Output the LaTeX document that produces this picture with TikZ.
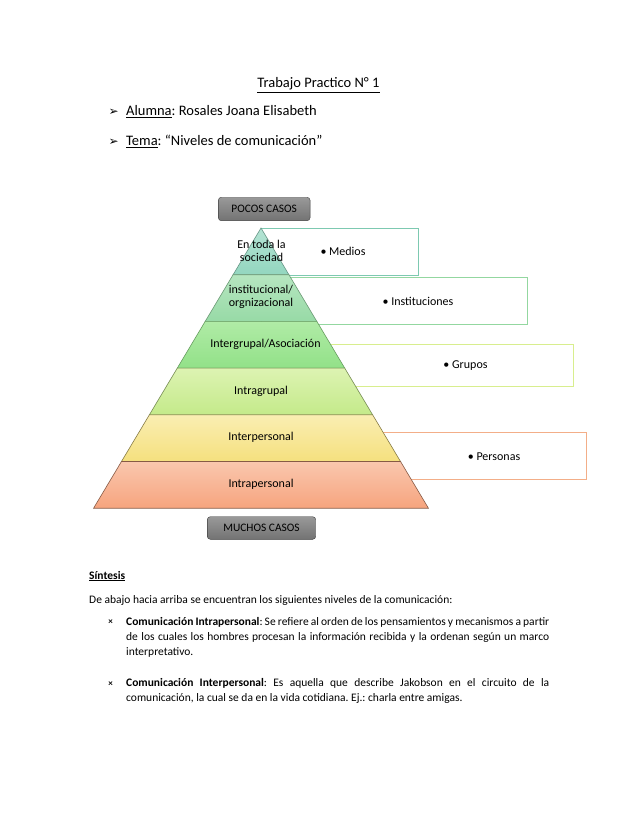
\documentclass[tikz,border=0pt]{standalone}
\usepackage{fontspec}
\setmainfont{Carlito}
\newfontfamily\dingfont{DejaVu Sans}
\usetikzlibrary{positioning}
\frenchspacing

\definecolor{capa1a}{HTML}{B4E4D4}\definecolor{capa1b}{HTML}{93D6BF}\definecolor{borde1}{HTML}{7DC9B1}
\definecolor{capa2a}{HTML}{B6E6C0}\definecolor{capa2b}{HTML}{97DAA6}\definecolor{borde2}{HTML}{93D7A0}
\definecolor{capa3a}{HTML}{B0EBA6}\definecolor{capa3b}{HTML}{92E188}\definecolor{borde3}{HTML}{D8EE8E}
\definecolor{capa4a}{HTML}{DDF3B2}\definecolor{capa4b}{HTML}{C4EA8A}
\definecolor{capa5a}{HTML}{FAEEB2}\definecolor{capa5b}{HTML}{F5E07E}\definecolor{borde4}{HTML}{F3AE88}
\definecolor{capa6a}{HTML}{FAC7AE}\definecolor{capa6b}{HTML}{F6A47E}

\tikzset{
  texto/.style={font=\fontsize{11.5}{15}\selectfont, inner sep=0pt, anchor=base west},
  cabecera/.style={texto, font=\fontsize{14.5}{17}\selectfont},
  parrafo/.style={texto, text width=423pt, align=justify},
  nivel/.style={font=\fontsize{12}{13}\selectfont, inner sep=0pt, align=center},
  lista/.style={line width=0.8pt},
  casos/.style={draw=black!75, rounded corners=3pt, top color=black!40, bottom color=black!55,
    font=\fontsize{11.4}{13}\selectfont, inner sep=0pt},
}

\begin{document}
\begin{tikzpicture}[x=1pt,y=-1pt]
\useasboundingbox[fill=white] (0,0) rectangle (638,826);

% encabezado
\node[cabecera, anchor=base] (titulo) at (318.5,88) {\underline{Trabajo Practico N° 1}};
\node[cabecera] (alumna) at (126,115.5) {\underline{Alumna}: Rosales Joana Elisabeth};
\node[cabecera] (tema) at (126,146) {\underline{Tema}: “Niveles de comunicación”};
\node[texto, anchor=base east, font=\dingfont\fontsize{12}{12}\selectfont] (flecha1) at ([xshift=-7pt]alumna.base west) {➢};
\node[texto, anchor=base east, font=\dingfont\fontsize{12}{12}\selectfont] (flecha2) at ([xshift=-7pt]tema.base west) {➢};

% cajas de la lista
\draw[lista, borde1] (261,228) rectangle (418,275);
\draw[lista, borde2] (261,277.3) rectangle (527.7,324.3);
\draw[lista, borde3] (261,344.3) rectangle (573.3,386.7);
\draw[lista, borde4] (261,432.3) rectangle (586.7,479);

% piramide
\foreach \i/\ca/\cb/\cl in {0/capa1a/capa1b/capa1b!70!black, 1/capa2a/capa2b/capa2b!70!black,
  2/capa3a/capa3b/capa3b!70!black, 3/capa4a/capa4b/capa4b!60!black,
  4/capa5a/capa5b/capa5b!55!black, 5/capa6a/capa6b/capa6b!55!black}{
  \pgfmathsetmacro{\ya}{228+46.7*\i}
  \pgfmathsetmacro{\yb}{\ya+46.7}
  \pgfmathsetmacro{\wa}{(\ya-228)*0.5975}
  \pgfmathsetmacro{\wb}{(\yb-228)*0.5975}
  \shadedraw[top color=\ca, bottom color=\cb, draw=\cl, line width=0.6pt]
    (261-\wa,\ya) -- (261+\wa,\ya) -- (261+\wb,\yb) -- (261-\wb,\yb) -- cycle;
}
\node[nivel] (sociedad) at (261.5,250.5) {En toda la\\sociedad};
\node[nivel] (institucional) at (261,297) {institucional/\\orgnizacional};
\node[nivel] (intergrupal) at (265.5,344.3) {Intergrupal/Asociación};
\node[nivel] (intragrupal) at (261,391) {Intragrupal};
\node[nivel] (interpersonal) at (261,437.7) {Interpersonal};
\node[nivel] (intrapersonal) at (261,484.3) {Intrapersonal};

\node[nivel] (medios) at (343,251.7) {• Medios};
\node[nivel] (instituciones) at (418,301) {• Instituciones};
\node[nivel] (grupos) at (465.5,365.7) {• Grupos};
\node[nivel] (personas) at (494,456.7) {• Personas};

\node[casos, minimum width=91.7pt, minimum height=23.4pt] (pocos) at (264.2,209) {POCOS CASOS};
\node[casos, minimum width=108.4pt, minimum height=22.6pt] (muchos) at (261.5,528) {MUCHOS CASOS};

% sintesis
\node[texto] (sintesis) at (89,579) {\textbf{\underline{Síntesis}}};
\node[texto] (abajo) at (89,603.3) {De abajo hacia arriba se encuentran los siguientes niveles de la comunicación:};
\node[parrafo] (intra) at (126,625) {\textbf{Comunicación Intrapersonal}: Se refiere al orden de los pensamientos y mecanismos a partir\linebreak de los cuales los hombres procesan la información recibida y la ordenan según un marco\linebreak interpretativo.};
\node[parrafo] (inter) at (126,686.7) {\textbf{Comunicación Interpersonal}: Es aquella que describe Jakobson en el circuito de la\linebreak comunicación, la cual se da en la vida cotidiana. Ej.: charla entre amigas.};
\node[texto, anchor=base, font=\bfseries\fontsize{9}{12}\selectfont] (cruz1) at (110.5,624.5) {×};
\node[texto, anchor=base, font=\bfseries\fontsize{9}{12}\selectfont] (cruz2) at (110.5,686.2) {×};
\end{tikzpicture}
\end{document}
